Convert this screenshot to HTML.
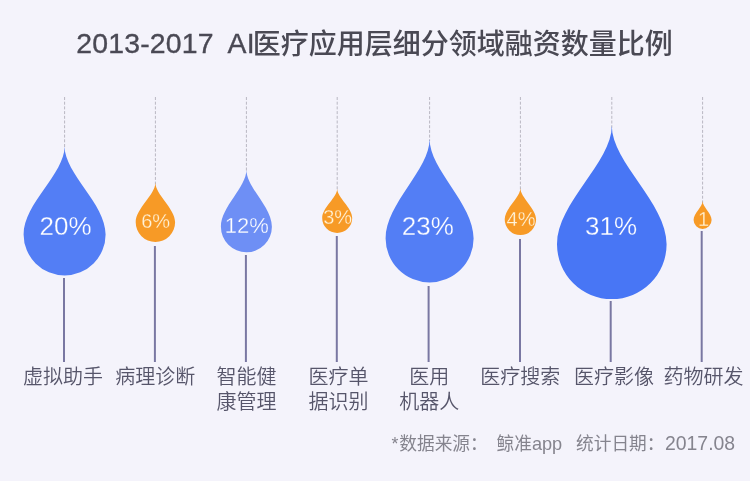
<!DOCTYPE html>
<html lang="zh-CN">
<head>
<meta charset="utf-8">
<title>2013-2017 AI医疗应用层细分领域融资数量比例</title>
<style>
html,body{margin:0;padding:0;background:#f4f3fb;}
body{width:750px;height:481px;overflow:hidden;position:relative;font-family:"Liberation Sans","Noto Sans CJK SC",sans-serif;}
svg{position:absolute;left:0;top:0;display:block;}
text{font-family:"Liberation Sans","Noto Sans CJK SC",sans-serif;}
.title{font-size:28px;font-weight:500;fill:#4a4954;}
.tl{font-size:28.4px;stroke:#4a4954;stroke-width:0.35px;letter-spacing:0.2px;}
.label{font-size:20px;font-weight:350;fill:#56556a;text-anchor:middle;}
.pct{text-anchor:middle;font-weight:400;}
.foot{font-size:17.7px;fill:#85848e;}
.foot .lat{font-size:18.6px;}
</style>
</head>
<body>
<svg width="750" height="481" viewBox="0 0 750 481">
<rect x="0" y="0" width="750" height="481" fill="#f4f3fb"/>
<text class="title" y="53"><tspan class="tl" x="76.2">2013-2017</tspan> <tspan class="tl" x="227.5">AI</tspan><tspan x="252.8" y="53.7">医疗应用层细分领域融资数量比例</tspan></text>

<line x1="64.6" y1="97" x2="64.6" y2="148.5" stroke="#b9b7c2" stroke-width="1" stroke-dasharray="3 1.7"/>
<line x1="64.0" y1="278" x2="64.0" y2="362" stroke="#7977a2" stroke-width="2"/>
<path d="M64.60,146.50 C64.60,173.75 23.60,203.63 23.60,234.40 A41.00,41.00 0 1 0 105.60,234.40 C105.60,203.63 64.60,173.75 64.60,146.50Z" fill="#537ef5"/>
<text class="pct" x="65.6" y="235" font-size="26" fill="#ffffff" stroke="#537ef5" stroke-width="0.3">20%</text>
<line x1="155.4" y1="97" x2="155.4" y2="184.5" stroke="#b9b7c2" stroke-width="1" stroke-dasharray="3 1.7"/>
<line x1="154.9" y1="246" x2="154.9" y2="362" stroke="#7977a2" stroke-width="2"/>
<path d="M155.40,182.50 C155.40,194.84 135.70,208.37 135.70,222.30 A19.70,19.70 0 1 0 175.10,222.30 C175.10,208.37 155.40,194.84 155.40,182.50Z" fill="#f79a26"/>
<text class="pct" x="155.7" y="227.5" font-size="20" fill="#fff4dc" stroke="#f79a26" stroke-width="0.3">6%</text>
<line x1="246.4" y1="97" x2="246.4" y2="171.8" stroke="#b9b7c2" stroke-width="1" stroke-dasharray="3 1.7"/>
<line x1="245.9" y1="255" x2="245.9" y2="362" stroke="#7977a2" stroke-width="2"/>
<path d="M246.40,169.80 C246.40,187.47 220.90,206.85 220.90,226.80 A25.50,25.50 0 1 0 271.90,226.80 C271.90,206.85 246.40,187.47 246.40,169.80Z" fill="#6e8ff5"/>
<text class="pct" x="246.8" y="232.6" font-size="22" fill="#ffffff" stroke="#6e8ff5" stroke-width="0.3">12%</text>
<line x1="337.2" y1="97" x2="337.2" y2="190.6" stroke="#b9b7c2" stroke-width="1" stroke-dasharray="3 1.7"/>
<line x1="336.8" y1="236" x2="336.8" y2="362" stroke="#7977a2" stroke-width="2"/>
<path d="M337.20,188.60 C337.20,197.71 322.20,207.71 322.20,218.00 A15.00,15.00 0 1 0 352.20,218.00 C352.20,207.71 337.20,197.71 337.20,188.60Z" fill="#f79a26"/>
<text class="pct" x="337.6" y="224.1" font-size="20" fill="#fff4dc" stroke="#f79a26" stroke-width="0.3">3%</text>
<line x1="429.6" y1="97" x2="429.6" y2="141" stroke="#b9b7c2" stroke-width="1" stroke-dasharray="3 1.7"/>
<line x1="428.6" y1="286" x2="428.6" y2="362" stroke="#7977a2" stroke-width="2"/>
<path d="M429.60,139.00 C429.60,169.81 385.60,203.61 385.60,238.40 A44.00,44.00 0 1 0 473.60,238.40 C473.60,203.61 429.60,169.81 429.60,139.00Z" fill="#537ef5"/>
<text class="pct" x="427.8" y="235" font-size="26" fill="#ffffff" stroke="#537ef5" stroke-width="0.3">23%</text>
<line x1="520.4" y1="97" x2="520.4" y2="190" stroke="#b9b7c2" stroke-width="1" stroke-dasharray="3 1.7"/>
<line x1="520.0" y1="239" x2="520.0" y2="362" stroke="#7977a2" stroke-width="2"/>
<path d="M520.40,188.00 C520.40,197.70 504.70,208.34 504.70,219.30 A15.70,15.70 0 1 0 536.10,219.30 C536.10,208.34 520.40,197.70 520.40,188.00Z" fill="#f79a26"/>
<text class="pct" x="521.0" y="226" font-size="20" fill="#fff4dc" stroke="#f79a26" stroke-width="0.3">4%</text>
<line x1="611.8" y1="97" x2="611.8" y2="127.8" stroke="#b9b7c2" stroke-width="1" stroke-dasharray="3 1.7"/>
<line x1="610.7" y1="301" x2="610.7" y2="362" stroke="#7977a2" stroke-width="2"/>
<path d="M611.80,125.80 C611.80,162.53 557.00,202.83 557.00,244.30 A54.80,54.80 0 1 0 666.60,244.30 C666.60,202.83 611.80,162.53 611.80,125.80Z" fill="#4876f5"/>
<text class="pct" x="611.0" y="235" font-size="26" fill="#ffffff" stroke="#4876f5" stroke-width="0.3">31%</text>
<line x1="702.6" y1="97" x2="702.6" y2="203" stroke="#b9b7c2" stroke-width="1" stroke-dasharray="3 1.7"/>
<line x1="701.7" y1="231" x2="701.7" y2="362" stroke="#7977a2" stroke-width="2"/>
<path d="M702.60,201.00 C702.60,206.89 693.60,213.35 693.60,220.00 A9.00,9.00 0 1 0 711.60,220.00 C711.60,213.35 702.60,206.89 702.60,201.00Z" fill="#f79a26"/>
<text class="pct" x="703.5" y="225.6" font-size="20" fill="#fff4dc" stroke="#f79a26" stroke-width="0.3">1</text>
<text class="label" x="63.0" y="383.6">虚拟助手</text>
<text class="label" x="155.3" y="383.6">病理诊断</text>
<text class="label" x="246.4" y="383.6">智能健</text>
<text class="label" x="246.4" y="409.0">康管理</text>
<text class="label" x="338.4" y="383.6">医疗单</text>
<text class="label" x="338.4" y="409.0">据识别</text>
<text class="label" x="429.3" y="383.6">医用</text>
<text class="label" x="429.3" y="409.0">机器人</text>
<text class="label" x="520.3" y="383.6">医疗搜索</text>
<text class="label" x="614.0" y="383.6">医疗影像</text>
<text class="label" x="703.6" y="383.6">药物研发</text>
<text class="foot" y="449.6"><tspan x="391.6">*</tspan><tspan x="399.3">数据来源：</tspan> <tspan x="496.5">鲸准</tspan><tspan class="lat" style="font-size:18.2px">app</tspan> <tspan x="576">统计日期：</tspan><tspan class="lat" x="665" style="font-size:19.4px">2017.08</tspan></text>
</svg>
</body>
</html>
